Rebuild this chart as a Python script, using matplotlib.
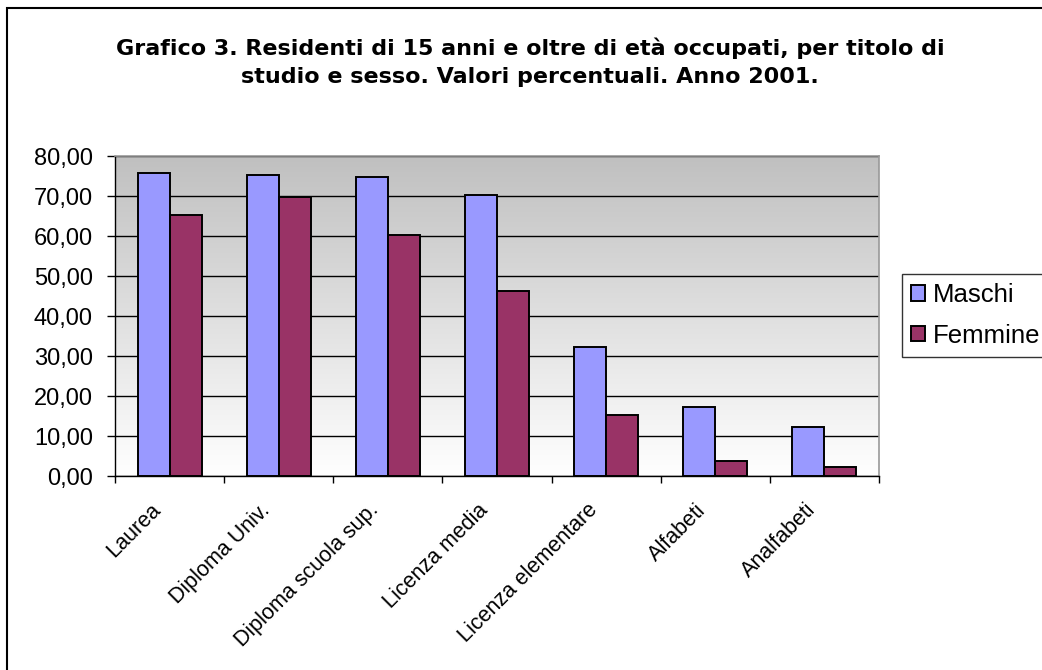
import numpy as np
import matplotlib
matplotlib.use("Agg")
import matplotlib.pyplot as plt
from matplotlib.patches import Rectangle
from matplotlib.ticker import FuncFormatter, FixedLocator
from matplotlib.transforms import ScaledTranslation

categories = ["Laurea", "Diploma Univ.", "Diploma scuola sup.", "Licenza media",
              "Licenza elementare", "Alfabeti", "Analfabeti"]
maschi = [75.8, 75.3, 74.8, 70.3, 32.3, 17.3, 12.3]
femmine = [65.3, 69.8, 60.3, 46.3, 15.3, 3.8, 2.3]
series_names = ["Maschi", "Femmine"]
title = ("Grafico 3. Residenti di 15 anni e oltre di età occupati, per titolo di\n"
         "studio e sesso. Valori percentuali. Anno 2001.")
yticks = [0, 10, 20, 30, 40, 50, 60, 70, 80]

plt.rcParams['font.family'] = ['Liberation Sans', 'DejaVu Sans']

W, H = 1042, 670
fig = plt.figure(figsize=(W / 100, H / 100), dpi=100)
fig.patch.set_facecolor("white")

ax = fig.add_axes([115 / W, 1 - 476 / H, (879 - 115) / W, (476 - 156) / H])

# gradient background
grad = np.linspace(0, 1, 256).reshape(-1, 1)
top = np.array([192, 192, 192]) / 255
bot = np.array([255, 255, 255]) / 255
img = top[None, None, :] * (1 - grad[:, :, None]) + bot[None, None, :] * grad[:, :, None]
ax.imshow(img, extent=[0, 1, 0, 1], transform=ax.transAxes, aspect="auto",
          zorder=0, interpolation="bilinear")

x = np.arange(len(categories))
bw = 0.293
ax.bar(x - bw / 2, maschi, bw, color="#9999FF", edgecolor="black", linewidth=1.4,
       label=series_names[0], zorder=3)
ax.bar(x + bw / 2, femmine, bw, color="#993366", edgecolor="black", linewidth=1.4,
       label=series_names[1], zorder=3)

ax.set_xlim(-0.5, len(categories) - 0.5)
ax.set_ylim(0, 80)
ax.set_yticks(yticks)
ax.yaxis.set_major_formatter(FuncFormatter(lambda v, p: f"{v:.2f}".replace(".", ",")))
ax.yaxis.grid(True, color="black", linewidth=1.0, zorder=1)
ax.set_axisbelow(True)

# category labels
ax.set_xticks(x)
ax.set_xticklabels([])
ax.tick_params(axis="x", which="major", length=0)
lab_tr = ax.get_xaxis_transform() + ScaledTranslation(-12 / 100, -31 / 100, fig.dpi_scale_trans)
for xi, cat in zip(x, categories):
    ax.text(xi, 0, cat, transform=lab_tr, rotation=45, ha="right", va="center",
            rotation_mode="anchor", fontsize=15.5)

ax.xaxis.set_minor_locator(FixedLocator(np.arange(-0.5, len(categories), 1.0)))
ax.tick_params(axis="x", which="minor", length=5, width=1, color="black", direction="out")
ax.tick_params(axis="y", length=6, width=1, direction="out", labelsize=17, pad=10)

for s in ["left", "bottom"]:
    ax.spines[s].set_color("black")
    ax.spines[s].set_linewidth(1.0)
for s in ["top", "right"]:
    ax.spines[s].set_color("#999999")
    ax.spines[s].set_linewidth(1.2)

fig.text(530 / W, 1 - 62 / H, title, ha="center", va="center", fontsize=16,
         fontweight="bold", linespacing=1.5, family=["DejaVu Sans"])

leg = fig.legend(loc="upper left", bbox_to_anchor=(902 / W, 1 - 274 / H),
                 fontsize=18.5, frameon=True, fancybox=False, handlelength=0.55,
                 handleheight=0.55, handletextpad=0.3, borderpad=0.35,
                 labelspacing=0.65, borderaxespad=0)
leg.get_frame().set_edgecolor("black")
leg.get_frame().set_linewidth(1.0)

fig.add_artist(Rectangle((7 / W, -0.2), 2, 1.2 - 8 / H, transform=fig.transFigure,
                         fill=False, edgecolor="black", linewidth=1.5))

fig.savefig("out.png", dpi=100)
